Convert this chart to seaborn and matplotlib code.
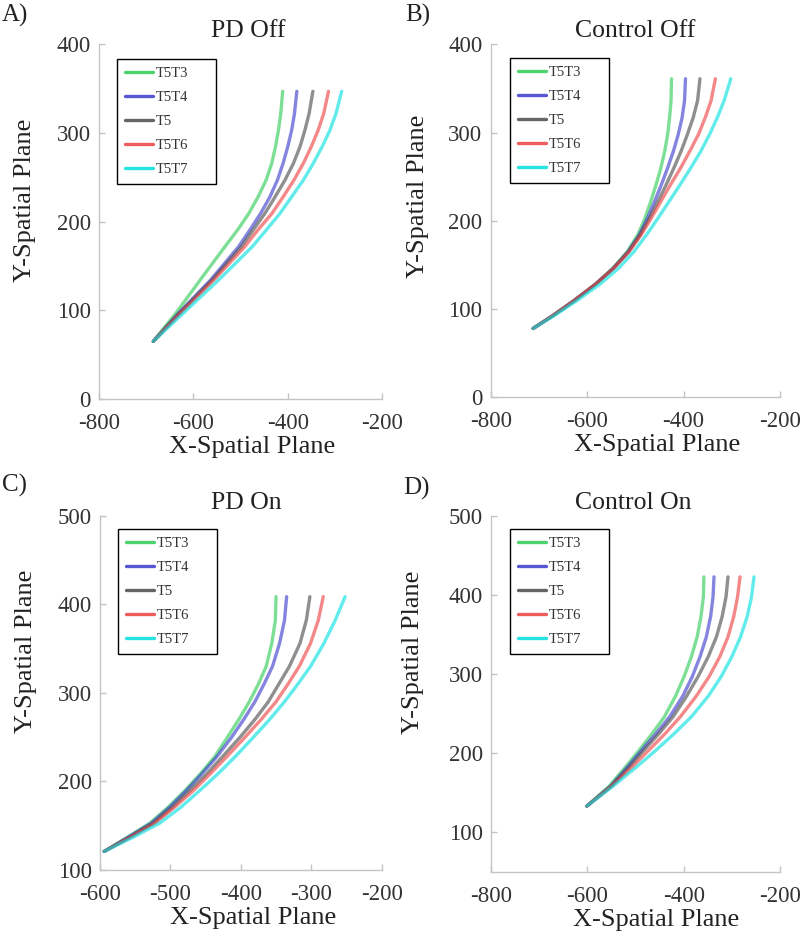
import matplotlib
matplotlib.use('Agg')
import matplotlib.pyplot as plt
import seaborn as sns
import pandas as pd

# ---------------- data ----------------
series = ['T5T3', 'T5T4', 'T5', 'T5T6', 'T5T7']
colors = ['#2ecc55', '#3a3acc', '#4a4a4a', '#ee4040', '#00e0e0']

# Panel A: PD Off
A_y = [65, 97, 134, 172, 191, 209, 228, 247, 266, 285, 303, 322, 347]
A_T5T3 = [-685, -637, -586, -533, -506, -483, -463, -446, -434, -426, -420, -415, -411]
A_T5T4 = [-685, -631, -564, -504, -480, -458, -438, -422, -410, -400, -392, -386, -381]
A_T5 = [-685, -630, -561, -498, -473, -449, -427, -406, -388, -374, -364, -355, -347]
A_T5T6 = [-685, -627, -557, -491, -463, -434, -410, -387, -367, -350, -336, -324, -314]
A_T5T7 = [-685, -621, -547, -475, -445, -417, -392, -367, -346, -327, -311, -298, -286]

# Panel B: Control Off
B_y = [78, 93, 110, 128, 146, 165, 184, 203, 222, 241, 260, 279, 298, 317, 336, 361]
B_T5T3 = [-712, -670, -626, -583, -547, -517, -495, -480, -468, -457, -447, -439, -433, -429, -426, -425]
B_T5T4 = [-712, -670, -626, -583, -546, -515, -492, -475, -460, -446, -433, -421, -411, -403, -398, -396]
B_T5 = [-712, -670, -626, -583, -546, -514, -490, -471, -453, -436, -420, -405, -392, -380, -371, -366]
B_T5T6 = [-712, -670, -626, -583, -545, -513, -488, -467, -447, -427, -406, -387, -369, -355, -343, -334]
B_T5T7 = [-712, -667, -620, -574, -535, -503, -477, -453, -430, -407, -385, -364, -346, -330, -316, -302]

# Panel C: PD On
C_y = [121, 137, 153, 171, 190, 209, 228, 250, 271, 290, 310, 330, 356, 382, 408.6]
C_T5T3 = [-594, -561, -529, -503, -479, -457, -437, -419, -402, -388, -375, -364, -356, -351, -350]
C_T5T4 = [-594, -560, -527, -501, -477, -455, -434, -413, -395, -380, -367, -355, -345, -338, -335]
C_T5 = [-594, -558, -524, -497, -472, -448, -426, -401, -379, -361, -346, -331, -316, -307, -302]
C_T5T6 = [-594, -557, -522, -494, -467, -443, -420, -394, -370, -350, -333, -317, -301, -290, -283]
C_T5T7 = [-594, -553, -515, -485, -458, -432, -408, -382, -358, -338, -319, -301, -282, -266, -252]

# Panel D: Control On
D_y = [133, 158, 183, 204, 225, 246, 272, 297, 322, 347, 373, 398, 423]
D_T5T3 = [-601, -555, -520, -492, -465, -440, -417, -399, -384, -372, -364, -359, -358]
D_T5T4 = [-601, -552, -516, -487, -457, -429, -402, -382, -366, -353, -344, -339, -337]
D_T5 = [-601, -551, -512, -482, -451, -422, -394, -370, -349, -332, -320, -312, -308]
D_T5T6 = [-601, -550, -506, -472, -438, -407, -374, -347, -325, -308, -296, -288, -283]
D_T5T7 = [-601, -547, -497, -457, -419, -384, -349, -322, -300, -282, -268, -259, -254]

panels = [
    dict(letter='A)', title='PD Off', y=A_y, xs=[A_T5T3, A_T5T4, A_T5, A_T5T6, A_T5T7],
         xlim=(-800, -200), xticks=[-800, -600, -400, -200], ylim=(0, 400), yticks=[0, 100, 200, 300, 400]),
    dict(letter='B)', title='Control Off', y=B_y, xs=[B_T5T3, B_T5T4, B_T5, B_T5T6, B_T5T7],
         xlim=(-800, -200), xticks=[-800, -600, -400, -200], ylim=(0, 400), yticks=[0, 100, 200, 300, 400]),
    dict(letter='C)', title='PD On', y=C_y, xs=[C_T5T3, C_T5T4, C_T5, C_T5T6, C_T5T7],
         xlim=(-600, -200), xticks=[-600, -500, -400, -300, -200], ylim=(100, 500), yticks=[100, 200, 300, 400, 500]),
    dict(letter='D)', title='Control On', y=D_y, xs=[D_T5T3, D_T5T4, D_T5, D_T5T6, D_T5T7],
         xlim=(-800, -200), xticks=[-800, -600, -400, -200], ylim=(50, 500), yticks=[100, 200, 300, 400, 500]),
]

# ---------------- layout ----------------
W, H = 800, 943
sns.set_theme(style='white')
plt.rcParams['font.family'] = ['Liberation Serif', 'DejaVu Serif']
plt.rcParams['axes.unicode_minus'] = False

fig = plt.figure(figsize=(W / 100, H / 100), dpi=100)

# axes boxes in pixels: left, top, right, bottom
boxes = [(99, 44.3, 382.3, 399), (490.7, 44.3, 780, 397.3),
         (100, 515.7, 381.7, 870), (491, 516, 780, 871.7)]
ylab_x = [-0.222, -0.214, -0.222, -0.232]
ylab_y = [0.561, 0.57, 0.616, 0.618]
xlab_x = [0.542, 0.575, 0.542, 0.571]
title_x = [0.526, 0.499, 0.518, 0.491]
letter_pos = [(2, 22), (405, 22), (2, 492), (403, 495)]
leg_pos = [(0.0635, 0.9586), (0.0667, 0.961), (0.0635, 0.962), (0.066, 0.963)]

text_col = '#222222'
for i, p in enumerate(panels):
    l, t, r, b = boxes[i]
    ax = fig.add_axes([l / W, 1 - b / H, (r - l) / W, (b - t) / H])
    rows = []
    for s, xv in zip(series, p['xs']):
        for xx, yy in zip(xv, p['y']):
            rows.append(dict(x=xx, y=yy, series=s))
    df = pd.DataFrame(rows)
    sns.lineplot(data=df, x='x', y='y', hue='series', hue_order=series,
                 palette=dict(zip(series, colors)), sort=False, estimator=None,
                 units='series', linewidth=2.4, alpha=0.62, ax=ax, legend=True)
    ax.set_xlim(*p['xlim'])
    ax.set_ylim(*p['ylim'])
    ax.set_xticks(p['xticks'])
    ax.set_yticks(p['yticks'])
    for sp in ['top', 'right']:
        ax.spines[sp].set_visible(False)
    for sp in ['left', 'bottom']:
        ax.spines[sp].set_color('#c4c4c4')
        ax.spines[sp].set_linewidth(1.0)
    ax.tick_params(axis='both', direction='in', length=4, width=1, color='#c4c4c4',
                   labelcolor='#333333', labelsize=16.5, left=True, bottom=True)
    ax.tick_params(axis='x', pad=10)
    ax.tick_params(axis='y', pad=6)
    ax.set_xlabel('X-Spatial Plane', fontsize=19, color=text_col)
    ax.set_ylabel('Y-Spatial Plane', fontsize=19, color=text_col)
    ax.xaxis.set_label_coords(xlab_x[i], -0.104)
    ax.yaxis.set_label_coords(ylab_x[i], ylab_y[i])
    ax.text(title_x[i], 1.02, p['title'], transform=ax.transAxes, ha='center',
            va='baseline', fontsize=18.5, color=text_col)
    fig.text(letter_pos[i][0] / W, 1 - letter_pos[i][1] / H, p['letter'],
             ha='left', va='baseline', fontsize=18, color=text_col)

    handles, labels = ax.get_legend_handles_labels()
    fx, fy = leg_pos[i]
    wfrac = 99 / (r - l)
    leg = ax.legend(handles, labels, loc='upper left',
                    bbox_to_anchor=(fx, fy - 0.01, wfrac, 0.01), mode='expand',
                    borderaxespad=0, fontsize=10.5, handlelength=1.9,
                    handletextpad=0.2, labelspacing=0.74, borderpad=0.55,
                    frameon=True, fancybox=False, framealpha=1,
                    edgecolor='black')
    leg.get_frame().set_linewidth(1.0)
    for ln in leg.get_lines():
        ln.set_alpha(0.85)
        ln.set_linewidth(2.4)
    for tx in leg.get_texts():
        tx.set_color('#333333')

fig.savefig('out.png', dpi=100)
